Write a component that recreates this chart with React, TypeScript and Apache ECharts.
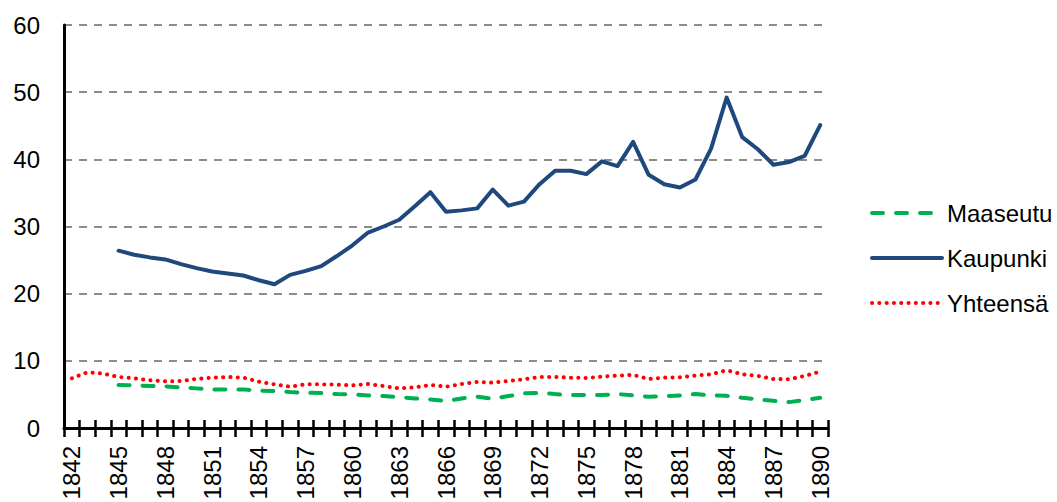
import React, { useEffect, useRef } from "react";
import * as echarts from "echarts";

const years: string[] = [];
for (let y = 1842; y <= 1890; y++) years.push(String(y));

const maaseutu: (number | null)[] = [
  null, null, null,
  6.4, 6.35, 6.25, 6.2, 6.05, 5.9, 5.75, 5.75, 5.75, 5.55, 5.5, 5.35, 5.25, 5.2, 5.05,
  5.0, 4.85, 4.75, 4.6, 4.4, 4.25, 4.0, 4.4, 4.65, 4.35, 4.75, 5.15, 5.25, 5.05, 4.9,
  4.9, 4.9, 5.05, 4.85, 4.65, 4.75, 4.85, 5.05, 4.85, 4.8, 4.5, 4.25, 4.05, 3.85, 4.15, 4.5,
];

const kaupunki: (number | null)[] = [
  null, null, null,
  26.4, 25.8, 25.4, 25.1, 24.4, 23.8, 23.3, 23.0, 22.7, 22.0, 21.4, 22.8, 23.4, 24.1, 25.6,
  27.2, 29.1, 30.0, 31.0, 33.0, 35.1, 32.2, 32.4, 32.7, 35.5, 33.1, 33.7, 36.3, 38.3, 38.3,
  37.8, 39.7, 39.0, 42.6, 37.7, 36.3, 35.8, 37.0, 41.6, 49.2, 43.3, 41.5, 39.2, 39.6, 40.5, 45.1,
];

const yhteensa: number[] = [
  7.4, 8.3, 8.1, 7.6, 7.4, 7.1, 6.95, 7.0, 7.3, 7.5, 7.6, 7.5, 6.9, 6.5, 6.15, 6.5, 6.5, 6.45,
  6.35, 6.55, 6.25, 5.9, 6.05, 6.4, 6.15, 6.55, 6.85, 6.75, 7.0, 7.25, 7.6, 7.6, 7.5,
  7.45, 7.65, 7.8, 7.9, 7.3, 7.5, 7.55, 7.8, 8.0, 8.6, 8.0, 7.75, 7.3, 7.25, 7.75, 8.4,
];

const FONT = "'Liberation Sans', Arial, sans-serif";

export default function App() {
  const ref = useRef<HTMLDivElement>(null);
  useEffect(() => {
    if (!ref.current) return;
    const chart = echarts.init(ref.current, null, { renderer: "svg" });
    chart.setOption({
      animation: false,
      backgroundColor: "#ffffff",
      textStyle: { fontFamily: FONT },
      grid: { left: 64, right: 229, top: 25, bottom: 74, containLabel: false, outerBoundsMode: "none" },
      legend: {
        orient: "vertical",
        left: 870,
        top: 201,
        padding: 0,
        itemWidth: 70,
        itemHeight: 24,
        itemGap: 21,
        itemStyle: { opacity: 0 },
        lineStyle: { width: 4 },
        textStyle: { fontFamily: FONT, fontSize: 24, color: "#000" },
        data: ["Maaseutu", "Kaupunki", "Yhteensä"],
      },
      xAxis: [
        {
          type: "category",
          data: years,
          boundaryGap: true,
          axisLine: { show: true, lineStyle: { color: "#000", width: 3 } },
          axisTick: { show: true, interval: 0, length: 9, inside: false, lineStyle: { color: "#000", width: 2.5 } },
          axisLabel: {
            interval: 2,
            rotate: 90,
            margin: 18,
            fontFamily: FONT,
            fontSize: 24,
            color: "#000",
          },
          splitLine: { show: false },
        },
        {
          type: "category",
          data: years,
          boundaryGap: true,
          position: "bottom",
          axisLine: { show: false },
          axisTick: { show: true, interval: 0, length: 8, inside: true, lineStyle: { color: "#000", width: 2.5 } },
          axisLabel: { show: false },
          splitLine: { show: false },
        },
      ],
      yAxis: {
        type: "value",
        min: 0,
        max: 60,
        interval: 10,
        axisLine: { show: true, lineStyle: { color: "#000", width: 3 } },
        axisTick: { show: false },
        axisLabel: { margin: 24, fontFamily: FONT, fontSize: 24, color: "#000" },
        splitLine: { show: true, lineStyle: { color: "#8C8C8C", width: 2, type: [8, 7] } },
      },
      series: [
        {
          name: "Maaseutu",
          type: "line",
          data: maaseutu,
          symbol: "none",
          z: 3,
          lineStyle: { color: "#00B050", width: 4, type: [11, 13], cap: "round" },
          itemStyle: { color: "#00B050" },
        },
        {
          name: "Kaupunki",
          type: "line",
          data: kaupunki,
          symbol: "none",
          z: 4,
          lineStyle: { color: "#1F497D", width: 4, cap: "round", join: "round" },
          itemStyle: { color: "#1F497D" },
        },
        {
          name: "Yhteensä",
          type: "line",
          data: yhteensa,
          symbol: "none",
          z: 5,
          lineStyle: { color: "#FF0000", width: 4, type: [0.1, 7.2], cap: "round" },
          itemStyle: { color: "#FF0000" },
        },
      ],
    });
    return () => chart.dispose();
  }, []);
  return (
    <div
      ref={ref}
      style={{ position: "fixed", left: 0, top: 0, width: 1057, height: 502, background: "#fff" }}
    />
  );
}
